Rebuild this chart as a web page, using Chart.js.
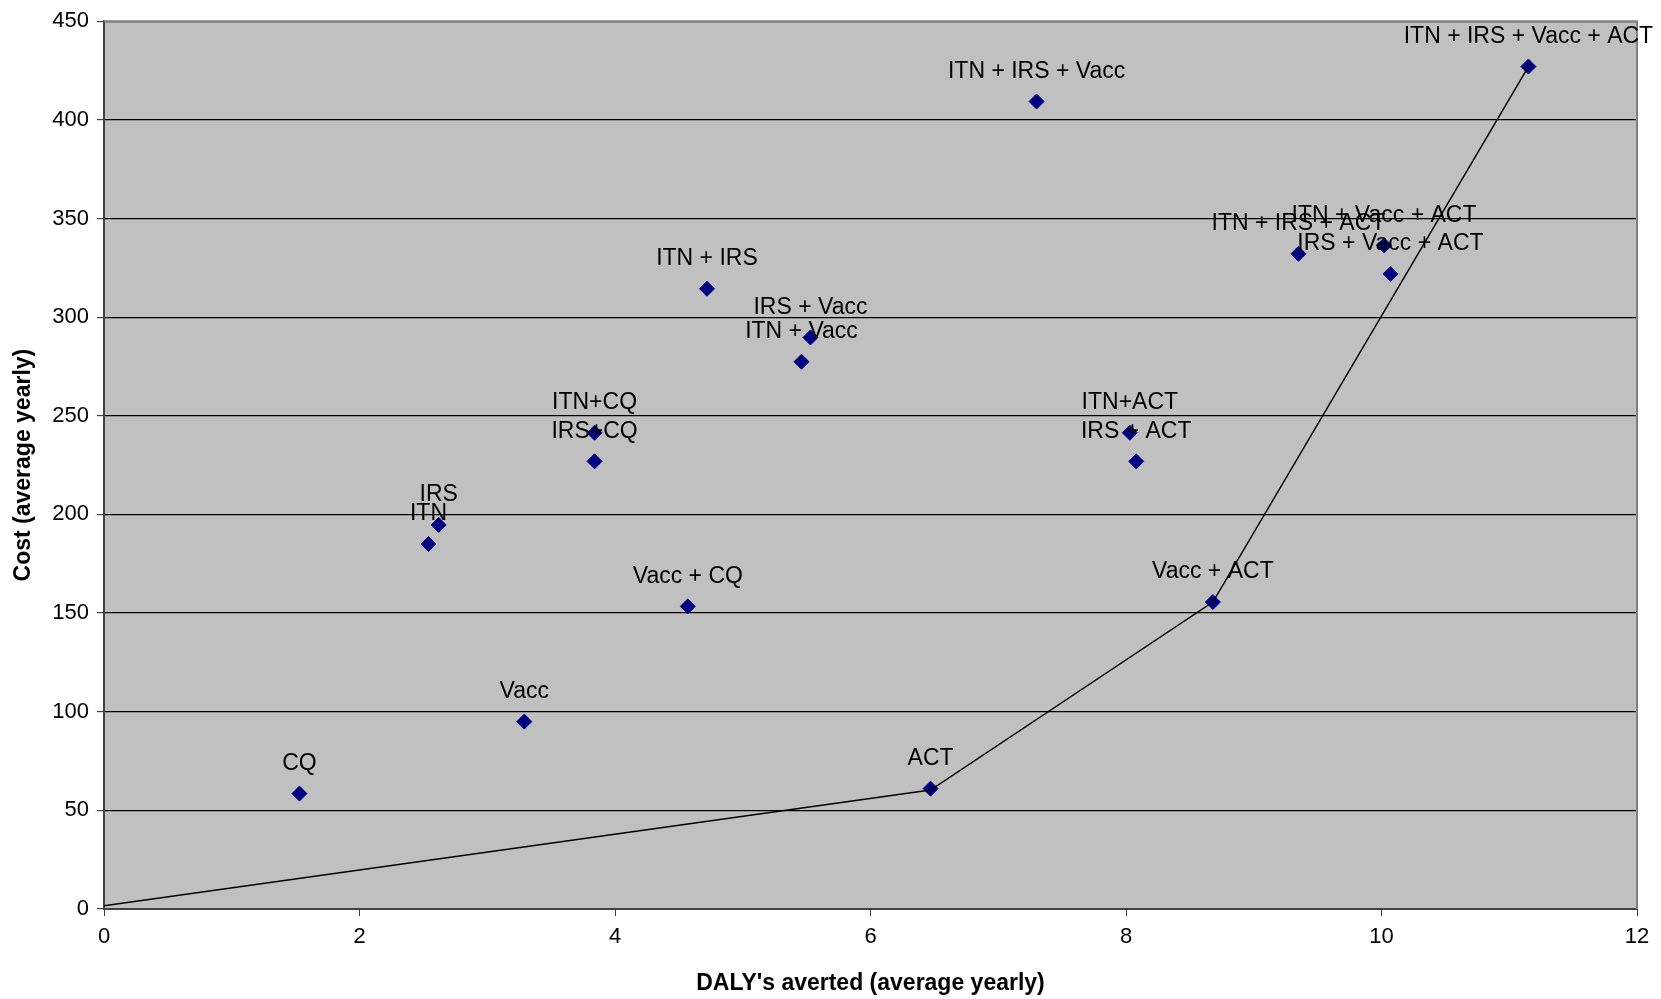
<!DOCTYPE html>
<html>
<head>
<meta charset="utf-8">
<script src="https://cdn.jsdelivr.net/npm/chart.js@4/dist/chart.umd.min.js"></script>
<style>
  body { margin: 0; background: #fff; }
  #wrap { width: 1661px; height: 999px; position: relative; }
</style>
</head>
<body>
<div id="wrap"><canvas id="costChart"></canvas></div>
<script>
// interventions and their (DALYs averted, cost) pairs
const interventions = ['CQ', 'ITN', 'IRS', 'Vacc', 'ITN+CQ', 'IRS+CQ', 'Vacc + CQ', 'ITN + IRS',
  'IRS + Vacc', 'ITN + Vacc', 'ACT', 'ITN + IRS + Vacc', 'ITN+ACT', 'IRS + ACT', 'Vacc + ACT',
  'ITN + IRS + ACT', 'ITN + Vacc + ACT', 'IRS + Vacc + ACT', 'ITN + IRS + Vacc + ACT'];
const dalysAverted = [1.53, 2.54, 2.62, 3.29, 3.84, 3.84, 4.57, 4.72,
  5.53, 5.46, 6.47, 7.30, 8.03, 8.08, 8.68,
  9.35, 10.02, 10.07, 11.15];
const costs = [58.5, 185, 194.7, 95, 241.4, 226.9, 153.4, 314.4,
  289.7, 277.4, 61, 409.3, 241.4, 226.9, 155.6,
  332.1, 336.4, 321.9, 427];

// efficiency frontier
const frontierX = [0, 6.47, 8.68, 11.15];
const frontierY = [1.6, 60.3, 155.6, 427];

const yTicks = [0, 450, 50];   // min, max, step
const xTicks = [0, 12, 2];

const font = 'Liberation Sans, Arial, sans-serif';

const plotBg = {
  id: 'plotBg',
  beforeDraw(chart) {
    const { ctx, chartArea: a } = chart;
    ctx.save();
    ctx.fillStyle = '#c0c0c0';
    ctx.fillRect(a.left, a.top, a.right - a.left, a.bottom - a.top);
    ctx.restore();
  },
  afterDraw(chart) {
    const { ctx, chartArea: a } = chart;
    ctx.save();
    ctx.strokeStyle = '#808080';
    ctx.lineWidth = 2;
    ctx.beginPath();
    ctx.moveTo(a.left, a.top);
    ctx.lineTo(a.right, a.top);
    ctx.lineTo(a.right, a.bottom);
    ctx.stroke();
    ctx.restore();
  }
};

// text labels above each point
const pointLabels = {
  id: 'pointLabels',
  afterDraw(chart) {
    const { ctx } = chart;
    const xs = chart.scales.x, ys = chart.scales.y;
    ctx.save();
    ctx.font = '23px ' + font;
    ctx.fillStyle = '#000';
    ctx.textAlign = 'center';
    ctx.textBaseline = 'middle';
    interventions.forEach((name, i) => {
      const px = xs.getPixelForValue(dalysAverted[i]);
      const py = ys.getPixelForValue(costs[i]);
      ctx.fillText(name, px, py - 30);
    });
    ctx.restore();
  }
};

new Chart(document.getElementById('costChart'), {
  type: 'scatter',
  data: {
    datasets: [
      {
        label: 'Interventions',
        data: dalysAverted.map((x, i) => ({ x: x, y: costs[i] })),
        pointStyle: 'rectRot',
        pointRadius: 7.5,
        backgroundColor: '#000080',
        borderColor: '#000080',
        borderWidth: 1,
        order: 1
      },
      {
        label: 'Frontier',
        data: frontierX.map((x, i) => ({ x: x, y: frontierY[i] })),
        showLine: true,
        borderColor: '#000',
        borderWidth: 1.5,
        pointRadius: 0,
        order: 0
      }
    ]
  },
  options: {
    responsive: true,
    maintainAspectRatio: false,
    animation: false,
    layout: { padding: { top: 20, right: 24, left: 0, bottom: 0 } },
    plugins: {
      legend: { display: false },
      tooltip: { enabled: false }
    },
    scales: {
      x: {
        type: 'linear',
        min: xTicks[0],
        max: xTicks[1],
        afterFit(scale) { scale.height = 90; },
        ticks: {
          stepSize: xTicks[2],
          padding: 8,
          color: '#000',
          font: { family: font, size: 22 }
        },
        grid: { drawOnChartArea: false, drawTicks: true, tickLength: 7, tickColor: '#404040' },
        border: { color: '#404040', width: 2 },
        title: {
          display: true,
          text: "DALY's averted (average yearly)",
          color: '#000',
          padding: { top: 0, bottom: 2 },
          font: { family: font, size: 23, weight: 'bold' }
        }
      },
      y: {
        min: yTicks[0],
        max: yTicks[1],
        afterFit(scale) { scale.width = 104; },
        ticks: {
          stepSize: yTicks[2],
          padding: 8,
          color: '#000',
          font: { family: font, size: 22 }
        },
        grid: { color: '#000', lineWidth: 1.2, tickLength: 7, tickColor: '#404040' },
        border: { color: '#404040', width: 2 },
        title: {
          display: true,
          text: 'Cost (average yearly)',
          color: '#000',
          padding: { top: 10, bottom: 0 },
          font: { family: font, size: 23, weight: 'bold' }
        }
      }
    }
  },
  plugins: [plotBg, pointLabels]
});
</script>
</body>
</html>
